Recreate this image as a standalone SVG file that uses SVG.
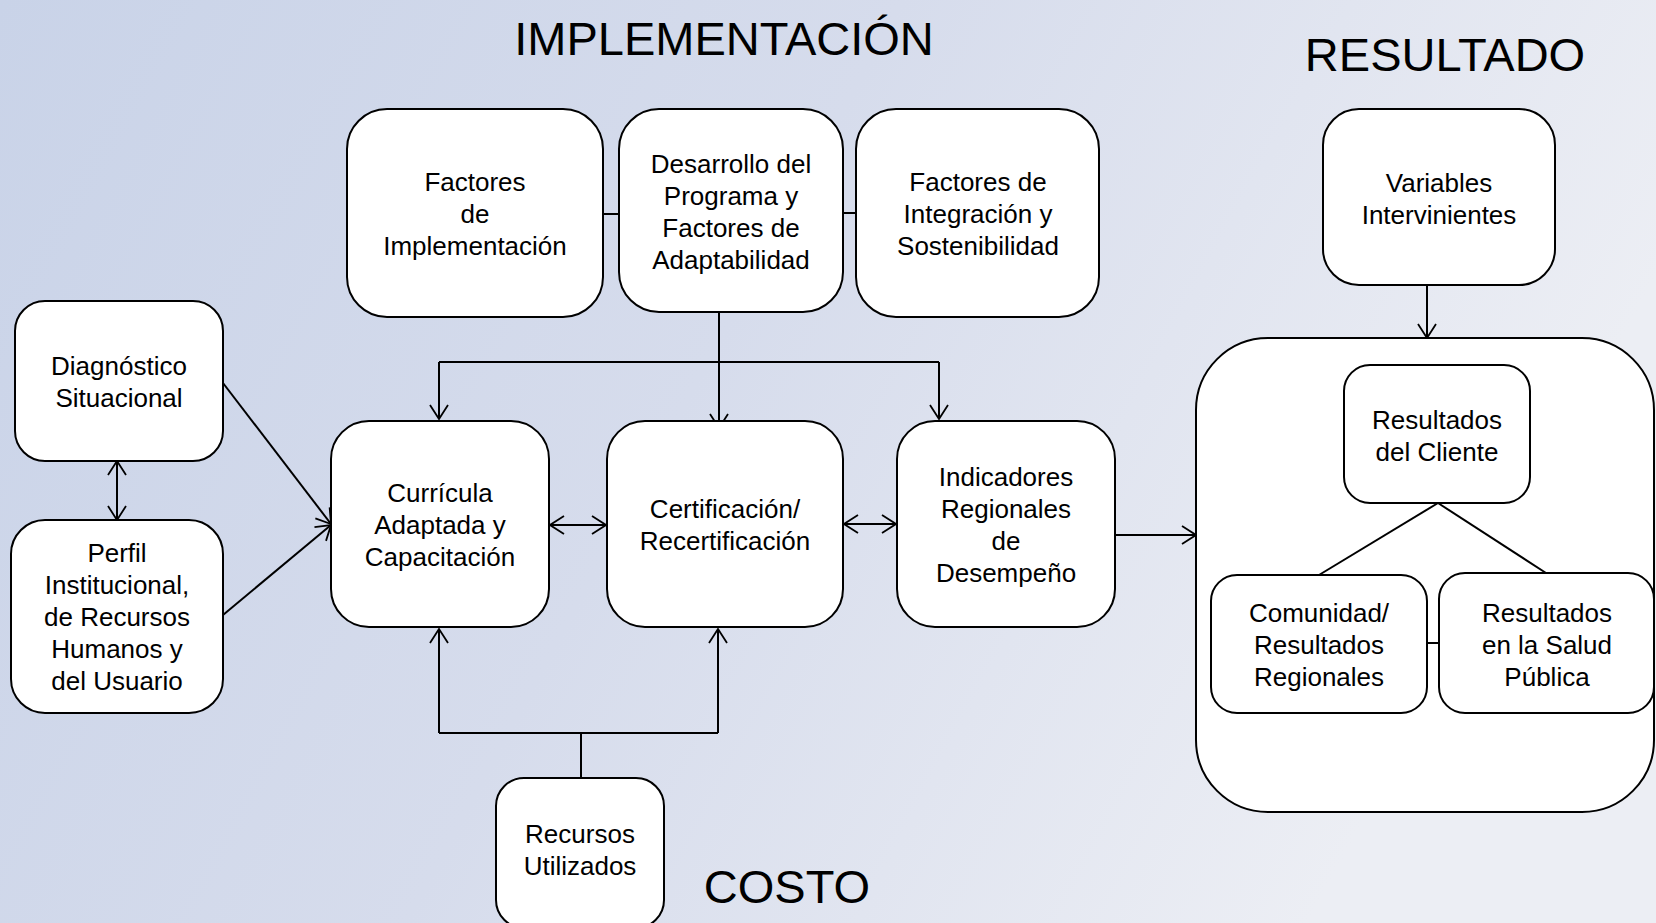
<svg xmlns="http://www.w3.org/2000/svg" width="1656" height="923" viewBox="0 0 1656 923">
<defs>
<linearGradient id="bg" x1="0" y1="0" x2="1" y2="0.3">
<stop offset="0" stop-color="#c9d3e8"/>
<stop offset="0.5" stop-color="#d6dcec"/>
<stop offset="1" stop-color="#eceef4"/>
</linearGradient>
<marker id="ah" viewBox="0 0 16 20" refX="15" refY="10" markerWidth="16" markerHeight="20" markerUnits="userSpaceOnUse" orient="auto-start-reverse">
<path d="M1,1 L15,10 L1,19" fill="none" stroke="#000" stroke-width="1.8"/>
</marker>
</defs>
<style>
.box{fill:#fff;stroke:#000;stroke-width:2}
.t{font-family:"Liberation Sans",Arial,sans-serif;font-size:26px;fill:#000;text-anchor:middle}
.h{font-family:"Liberation Sans",Arial,sans-serif;font-size:47px;fill:#000;text-anchor:middle}
.c{fill:none;stroke:#000;stroke-width:2}
.a{fill:none;stroke:#000;stroke-width:2;marker-end:url(#ah)}
.d{fill:none;stroke:#000;stroke-width:2;marker-end:url(#ah);marker-start:url(#ah)}
</style>
<rect x="0" y="0" width="1656" height="923" fill="url(#bg)"/>

<text class="h" x="724" y="55">IMPLEMENTACIÓN</text>
<text class="h" x="1445" y="71">RESULTADO</text>
<text class="h" x="787" y="903">COSTO</text>

<g id="n-resultado-container">
<rect class="box" x="1196" y="338" width="458" height="474" rx="72"/>
</g>

<g id="connectors">
<line class="c" x1="603" y1="214" x2="619" y2="214"/>
<line class="c" x1="843" y1="213" x2="856" y2="213"/>
<line class="a" x1="719" y1="312" x2="719" y2="428"/>
<polyline class="c" points="439,362 939,362"/>
<line class="a" x1="439" y1="362" x2="439" y2="419"/>
<line class="a" x1="939" y1="362" x2="939" y2="419"/>
<line class="a" x1="1427" y1="285" x2="1427" y2="338"/>
<line class="d" x1="117" y1="461" x2="117" y2="520"/>
<line class="a" x1="223" y1="383" x2="331" y2="524"/>
<line class="a" x1="223" y1="615" x2="331" y2="525"/>
<line class="d" x1="550" y1="525" x2="606" y2="525"/>
<line class="d" x1="844" y1="524" x2="896" y2="524"/>
<line class="a" x1="1115" y1="535" x2="1196" y2="535"/>
<line class="c" x1="581" y1="778" x2="581" y2="733"/>
<line class="c" x1="439" y1="733" x2="718" y2="733"/>
<line class="a" x1="439" y1="733" x2="439" y2="629"/>
<line class="a" x1="718" y1="733" x2="718" y2="629"/>
<line class="c" x1="1438" y1="503" x2="1319" y2="575"/>
<line class="c" x1="1438" y1="503" x2="1546" y2="573"/>
<line class="c" x1="1427" y1="643" x2="1439" y2="643"/>
</g>

<g id="n-factores-impl">
<rect class="box" x="347" y="109" width="256" height="208" rx="40"/>
<text class="t" x="475" y="191">Factores</text>
<text class="t" x="475" y="223">de</text>
<text class="t" x="475" y="255">Implementación</text>
</g>
<g id="n-desarrollo">
<rect class="box" x="619" y="109" width="224" height="203" rx="40"/>
<text class="t" x="731" y="173">Desarrollo del</text>
<text class="t" x="731" y="205">Programa y</text>
<text class="t" x="731" y="237">Factores de</text>
<text class="t" x="731" y="269">Adaptabilidad</text>
</g>
<g id="n-integracion">
<rect class="box" x="856" y="109" width="243" height="208" rx="40"/>
<text class="t" x="978" y="191">Factores de</text>
<text class="t" x="978" y="223">Integración y</text>
<text class="t" x="978" y="255">Sostenibilidad</text>
</g>
<g id="n-variables">
<rect class="box" x="1323" y="109" width="232" height="176" rx="36"/>
<text class="t" x="1439" y="192">Variables</text>
<text class="t" x="1439" y="224">Intervinientes</text>
</g>
<g id="n-diagnostico">
<rect class="box" x="15" y="301" width="208" height="160" rx="30"/>
<text class="t" x="119" y="375">Diagnóstico</text>
<text class="t" x="119" y="407">Situacional</text>
</g>
<g id="n-perfil">
<rect class="box" x="11" y="520" width="212" height="193" rx="34"/>
<text class="t" x="117" y="562">Perfil</text>
<text class="t" x="117" y="594">Institucional,</text>
<text class="t" x="117" y="626">de Recursos</text>
<text class="t" x="117" y="658">Humanos y</text>
<text class="t" x="117" y="690">del Usuario</text>
</g>
<g id="n-curricula">
<rect class="box" x="331" y="421" width="218" height="206" rx="38"/>
<text class="t" x="440" y="502">Currícula</text>
<text class="t" x="440" y="534">Adaptada y</text>
<text class="t" x="440" y="566">Capacitación</text>
</g>
<g id="n-certificacion">
<rect class="box" x="607" y="421" width="236" height="206" rx="38"/>
<text class="t" x="725" y="518">Certificación/</text>
<text class="t" x="725" y="550">Recertificación</text>
</g>
<g id="n-indicadores">
<rect class="box" x="897" y="421" width="218" height="206" rx="38"/>
<text class="t" x="1006" y="486">Indicadores</text>
<text class="t" x="1006" y="518">Regionales</text>
<text class="t" x="1006" y="550">de</text>
<text class="t" x="1006" y="582">Desempeño</text>
</g>
<g id="n-cliente">
<rect class="box" x="1344" y="365" width="186" height="138" rx="26"/>
<text class="t" x="1437" y="429">Resultados</text>
<text class="t" x="1437" y="461">del Cliente</text>
</g>
<g id="n-comunidad">
<rect class="box" x="1211" y="575" width="216" height="138" rx="26"/>
<text class="t" x="1319" y="622">Comunidad/</text>
<text class="t" x="1319" y="654">Resultados</text>
<text class="t" x="1319" y="686">Regionales</text>
</g>
<g id="n-salud">
<rect class="box" x="1439" y="573" width="215" height="140" rx="26"/>
<text class="t" x="1547" y="622">Resultados</text>
<text class="t" x="1547" y="654">en la Salud</text>
<text class="t" x="1547" y="686">Pública</text>
</g>
<g id="n-recursos">
<rect class="box" x="496" y="778" width="168" height="150" rx="28"/>
<text class="t" x="580" y="843">Recursos</text>
<text class="t" x="580" y="875">Utilizados</text>
</g>
</svg>
